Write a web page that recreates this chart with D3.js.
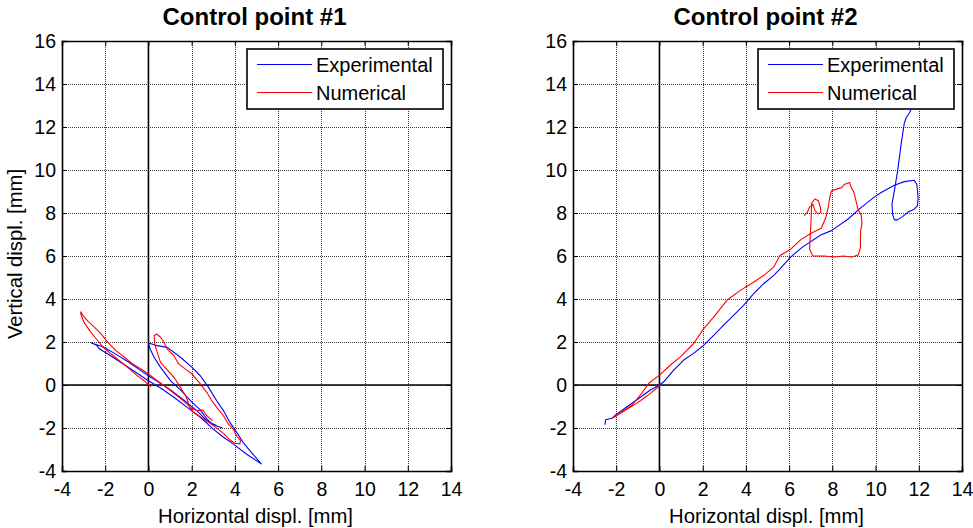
<!DOCTYPE html>
<html>
<head>
<meta charset="utf-8">
<script src="https://cdn.jsdelivr.net/npm/d3@7"></script>
<style>
  html, body { margin: 0; padding: 0; background: #fff; }
  svg { display: block; font-family: Arial, "Liberation Sans", sans-serif; }
</style>
</head>
<body>
<svg id="chart" width="973" height="528"></svg>
<script>
// Axis ticks shared by both panels
const xTicks = [-4, -2, 0, 2, 4, 6, 8, 10, 12, 14];
const yTicks = [-4, -2, 0, 2, 4, 6, 8, 10, 12, 14, 16];
const seriesNames = ["Experimental", "Numerical"];
const panelTitles = ["Control point #1", "Control point #2"];

// Control point #1 — measured trajectory [horizontal, vertical] in mm
const cp1Experimental = [
  [3.16,-1.89],[2.70,-1.66],[2.24,-1.19],[1.63,-0.70],[1.02,-0.23],[0.41,0.17],[0.00,0.43],
  [-0.35,0.67],[-0.96,1.09],[-1.57,1.47],[-2.11,1.78],[-2.64,1.95],
  [-2.41,1.86],[-2.26,1.67],[-1.88,1.44],[-1.27,1.05],[-0.66,0.64],[0.00,0.20],[0.56,-0.14],
  [1.18,-0.57],[1.79,-1.04],[2.40,-1.50],[3.00,-2.05],[3.47,-2.43],[3.92,-2.74],[4.53,-3.21],[5.22,-3.67],
  [4.76,-3.13],[4.38,-2.67],[4.08,-2.20],[3.77,-1.74],[3.47,-1.19],[3.16,-0.73],[2.78,-0.11],
  [2.40,0.43],[2.02,0.82],[1.48,1.29],[0.87,1.75],[0.41,1.83],[0.00,1.95],
  [0.08,1.67],[0.26,1.29],[0.56,0.82],[1.02,0.20],[1.48,-0.23],[2.02,-0.81],[2.40,-1.16],
  [2.70,-1.58],[2.98,-1.84],[3.42,-2.00]
];

// Control point #1 — simulated trajectory
const cp1Numerical = [
  [0.11,-0.08],[-0.20,0.20],[-0.58,0.48],[-0.96,0.82],[-1.34,1.13],[-1.73,1.44],[-2.11,1.78],
  [-2.41,2.14],[-2.72,2.53],[-2.98,2.91],[-3.13,3.30],[-3.13,3.41],[-3.02,3.22],[-2.79,2.96],
  [-2.49,2.68],[-2.18,2.37],[-1.88,1.98],[-1.50,1.60],[-1.11,1.29],[-0.73,0.98],[-0.35,0.74],
  [0.00,0.51],[0.41,0.20],[0.87,-0.14],[1.33,-0.50],[1.79,-0.88],[2.09,-1.27],[2.55,-1.58],
  [3.01,-1.89],[3.47,-2.25],[3.77,-2.56],[4.00,-2.71],[4.23,-2.74],[4.26,-2.59],[4.08,-2.36],
  [3.92,-2.05],[3.69,-1.81],[3.47,-1.43],[3.16,-1.04],[2.93,-0.73],[2.70,-0.34],[2.40,0.05],
  [2.02,0.51],[1.71,0.74],[1.40,0.98],[1.18,1.36],[0.87,1.67],[0.72,1.98],[0.56,2.22],
  [0.38,2.37],[0.26,2.29],[0.29,1.91],[0.38,1.60],[0.56,1.05],[0.87,0.70],[1.18,0.36],
  [1.48,-0.11],[1.76,-0.57],[1.91,-1.04],[2.24,-1.19],[2.52,-1.16],[2.70,-1.43],[2.96,-1.66]
];

// Control point #2 — measured trajectory
const cp2Experimental = [
  [-2.52,-1.85],[-2.49,-1.62],[-2.35,-1.58],[-2.20,-1.55],[-2.03,-1.39],[-1.49,-1.00],
  [-0.88,-0.57],[-0.42,-0.23],[0.00,0.00],[0.20,0.15],[0.66,0.69],[1.12,1.16],[1.58,1.47],
  [2.05,1.85],[2.51,2.31],[2.97,2.78],[3.43,3.24],[3.89,3.70],[4.35,4.24],[4.82,4.71],
  [5.28,5.09],[5.58,5.40],[6.07,5.95],[6.60,6.40],[7.46,6.98],[7.96,7.18],[8.73,7.72],
  [9.34,8.26],[9.95,8.75],[10.26,8.95],[10.87,9.29],[11.33,9.46],[11.79,9.52],[11.91,9.34],
  [11.97,8.72],[11.94,8.34],[11.79,8.18],[11.48,8.03],[11.25,7.83],[11.02,7.68],[10.87,7.68],
  [10.79,7.95],[10.76,8.42],[10.87,9.03],[11.02,9.95],[11.18,11.18],[11.33,12.18],
  [11.41,12.42],[11.56,12.65],[11.64,12.80]
];

// Control point #2 — simulated trajectory
const cp2Numerical = [
  [0.05,0.00],[-0.42,-0.39],[-0.88,-0.73],[-1.34,-1.03],[-1.80,-1.31],[-2.03,-1.47],[-2.20,-1.55],
  [-1.65,-1.19],[-1.26,-0.93],[-0.88,-0.46],[-0.49,0.08],[0.00,0.46],[0.51,0.93],[0.97,1.31],
  [1.58,1.93],[2.05,2.62],[2.51,3.16],[3.12,3.94],[3.74,4.40],[4.35,4.78],[4.82,5.09],
  [5.28,5.48],[5.58,6.02],[6.05,6.30],[6.53,6.75],[7.00,7.05],[7.50,7.30],[7.70,7.80],
  [7.81,8.26],[7.88,8.72],[7.96,9.03],[8.19,9.11],[8.42,9.18],[8.57,9.34],[8.80,9.42],
  [8.88,9.18],[9.00,8.95],[9.06,8.72],[9.11,8.49],[9.19,8.18],[9.34,7.88],[9.37,7.49],
  [9.31,7.18],[9.30,6.80],[9.30,6.40],[9.20,6.05],[8.90,5.95],[8.50,6.00],[8.10,5.95],
  [7.60,6.00],[7.10,6.00],[6.95,6.30],[6.97,6.80],[7.00,7.30],[7.02,7.80],[7.04,8.45],
  [7.19,8.65],[7.35,8.57],[7.45,8.26],[7.47,8.03],[7.35,7.96],[7.20,8.10],[7.10,8.40],
  [6.96,8.30],[6.85,8.05],[6.70,7.88]
];

const panels = [
  { title: panelTitles[0], exp: cp1Experimental, num: cp1Numerical, left: 62, ylabel: true },
  { title: panelTitles[1], exp: cp2Experimental, num: cp2Numerical, left: 573, ylabel: false }
];
const colors = ["#0000ff", "#ff0000"];
const plotTop = 41, plotW = 389, plotH = 430;

const svg = d3.select("#chart");
// plain hyphen for negative tick labels
const fmt = d => String(d);

panels.forEach(p => {
  const x = d3.scaleLinear().domain([xTicks[0], xTicks[xTicks.length - 1]]).range([p.left, p.left + plotW]);
  const y = d3.scaleLinear().domain([yTicks[0], yTicks[yTicks.length - 1]]).range([plotTop + plotH, plotTop]);
  const g = svg.append("g");

  // dotted grid
  const grid = g.append("g").attr("stroke", "#3c3c3c").attr("stroke-width", 1).attr("stroke-dasharray", "1,1");
  grid.selectAll("line.gx").data(xTicks.slice(1, -1)).join("line")
    .attr("x1", d => Math.round(x(d)) + 0.5).attr("x2", d => Math.round(x(d)) + 0.5)
    .attr("y1", plotTop).attr("y2", plotTop + plotH);
  grid.selectAll("line.gy").data(yTicks.slice(1, -1)).join("line")
    .attr("y1", d => Math.round(y(d)) + 0.5).attr("y2", d => Math.round(y(d)) + 0.5)
    .attr("x1", p.left).attr("x2", p.left + plotW);

  // zero reference lines
  g.append("line").attr("x1", x(0)).attr("x2", x(0)).attr("y1", plotTop).attr("y2", plotTop + plotH)
    .attr("stroke", "#000").attr("stroke-width", 1.6);
  g.append("line").attr("x1", p.left).attr("x2", p.left + plotW).attr("y1", y(0)).attr("y2", y(0))
    .attr("stroke", "#000").attr("stroke-width", 1.6);

  // trajectories
  const line = d3.line().x(d => x(d[0])).y(d => y(d[1])).curve(d3.curveLinear);
  [p.exp, p.num].forEach((data, i) => {
    g.append("path").datum(data).attr("d", line)
      .attr("fill", "none").attr("stroke", colors[i]).attr("stroke-width", 1.1)
      .attr("stroke-linejoin", "round");
  });

  // axes with inward ticks on all four sides
  const ax = [
    g.append("g").attr("transform", `translate(0,${plotTop + plotH})`)
      .call(d3.axisBottom(x).tickValues(xTicks).tickFormat(fmt).tickSize(-5).tickPadding(11)),
    g.append("g").attr("transform", `translate(0,${plotTop})`)
      .call(d3.axisTop(x).tickValues(xTicks).tickFormat("").tickSize(-5)),
    g.append("g").attr("transform", `translate(${p.left},0)`)
      .call(d3.axisLeft(y).tickValues(yTicks).tickFormat(fmt).tickSize(-5).tickPadding(6)),
    g.append("g").attr("transform", `translate(${p.left + plotW},0)`)
      .call(d3.axisRight(y).tickValues(yTicks).tickFormat("").tickSize(-5))
  ];
  ax.forEach(a => {
    a.select(".domain").attr("stroke", "#000").attr("stroke-width", 1.6);
    a.selectAll(".tick line").attr("stroke", "#000");
    a.selectAll("text").attr("font-size", 19.5).attr("fill", "#000")
      .attr("font-family", "Arial, 'Liberation Sans', sans-serif");
  });

  // legend
  const lg = g.append("g").attr("transform", `translate(${p.left + 185},49)`);
  lg.append("rect").attr("width", 196).attr("height", 60)
    .attr("fill", "#fff").attr("stroke", "#000").attr("stroke-width", 1.6);
  seriesNames.forEach((name, i) => {
    const cy = 15.5 + i * 28;
    lg.append("line").attr("x1", 10).attr("x2", 65).attr("y1", cy).attr("y2", cy)
      .attr("stroke", colors[i]).attr("stroke-width", 1.1);
    lg.append("text").attr("x", 69).attr("y", cy).attr("dy", "0.35em")
      .attr("font-size", 20).attr("fill", "#000").text(name);
  });

  // title and axis labels
  g.append("text").attr("x", p.left + plotW / 2 - 2).attr("y", 25).attr("text-anchor", "middle")
    .attr("font-size", 24).attr("font-weight", "bold").attr("fill", "#000").text(p.title);
  g.append("text").attr("x", p.left + plotW / 2 - 1).attr("y", 523).attr("text-anchor", "middle")
    .attr("font-size", 20.3).attr("fill", "#000").text("Horizontal displ. [mm]");
  if (p.ylabel) {
    g.append("text").attr("transform", `translate(22,${plotTop + plotH / 2 - 2}) rotate(-90)`)
      .attr("text-anchor", "middle").attr("font-size", 20.3).attr("fill", "#000")
      .text("Vertical displ. [mm]");
  }
});
</script>
</body>
</html>
